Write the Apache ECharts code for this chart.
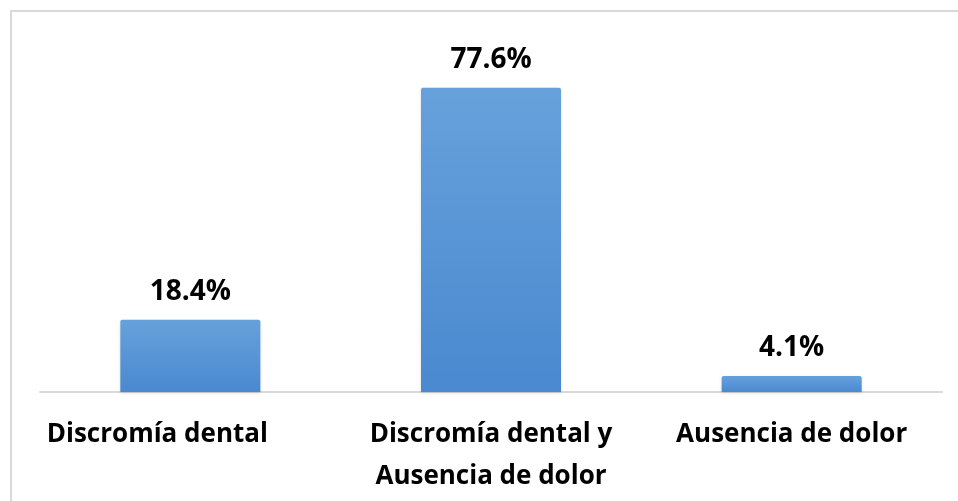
<!DOCTYPE html>
<html>
<head>
<meta charset="utf-8">
<script src="https://cdn.jsdelivr.net/npm/echarts@6/dist/echarts.min.js"></script>
<style>
  html, body { margin: 0; padding: 0; background: #fff; }
  #chart { width: 958px; height: 501px; }
</style>
</head>
<body>
<div id="chart"></div>
<script>
const categories = ['Discromía dental', 'Discromía dental y\nAusencia de dolor', 'Ausencia de dolor']
const values     = [18.4, 77.6, 4.1]

const FONT = '"Open Sans", sans-serif'

const chart = echarts.init(document.getElementById('chart'))

// el primer rótulo aparece desplazado a la izquierda en el original
const xData = categories.map((c, i) =>
  i === 0 ? { value: c, textStyle: { padding: [0, 66, 0, 0] } } : c
)

chart.setOption({
  backgroundColor: '#ffffff',
  animation: false,
  graphic: [{
    type: 'rect',
    shape: { x: 11, y: 11, width: 960, height: 500 },
    style: { fill: 'none', stroke: '#d9d9d9', lineWidth: 2 },
    silent: true
  }],
  grid: { top: 39, bottom: 109, left: 40, right: 16 },
  xAxis: {
    type: 'category',
    data: xData,
    axisLine: { lineStyle: { color: '#d9d9d9', width: 2 } },
    axisTick: { show: false },
    axisLabel: {
      color: '#000',
      fontSize: 26,
      fontWeight: 'bold',
      fontFamily: FONT,
      lineHeight: 42,
      margin: 22,
      interval: 0
    }
  },
  yAxis: {
    type: 'value',
    min: 0,
    max: 90,
    show: false,
    splitLine: { show: false }
  },
  series: [{
    type: 'bar',
    data: values,
    barWidth: 140,
    itemStyle: {
      color: new echarts.graphic.LinearGradient(0, 0, 0, 1, [
        { offset: 0, color: '#67a1dc' },
        { offset: 1, color: '#4a89cf' }
      ]),
      borderRadius: [2, 2, 0, 0],
      shadowColor: 'rgba(0,0,0,0.15)',
      shadowBlur: 3,
      shadowOffsetY: 1
    },
    label: {
      show: true,
      position: 'top',
      distance: 14,
      formatter: (p) => p.value.toFixed(1) + '%',
      color: '#000',
      fontSize: 28,
      fontWeight: 'bold',
      fontFamily: FONT
    }
  }]
})
</script>
</body>
</html>
